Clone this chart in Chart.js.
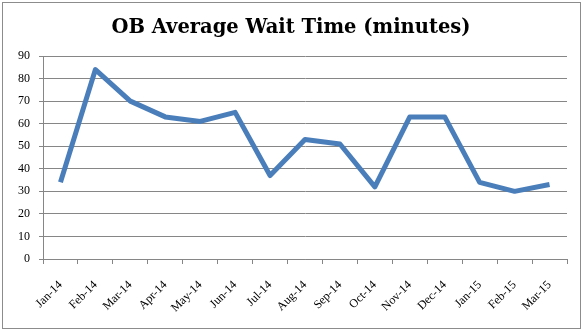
<!DOCTYPE html>
<html>
<head>
<meta charset="utf-8">
<script src="https://cdn.jsdelivr.net/npm/chart.js@4.4.1/dist/chart.umd.min.js"></script>
<style>
  html, body { margin: 0; padding: 0; background: #ffffff; }
  #wrap { position: relative; width: 585px; height: 331px; }
</style>
</head>
<body>
<div id="wrap"><canvas id="chart" width="585" height="331"></canvas></div>
<script>
// Monthly OB average wait time, in minutes
const months = ['Jan-14', 'Feb-14', 'Mar-14', 'Apr-14', 'May-14', 'Jun-14', 'Jul-14',
                'Aug-14', 'Sep-14', 'Oct-14', 'Nov-14', 'Dec-14', 'Jan-15', 'Feb-15', 'Mar-15'];
const waitMinutes = [34, 84, 70, 63, 61, 65, 37, 53, 51, 32, 63, 63, 34, 30, 33];
const yTicks = [0, 10, 20, 30, 40, 50, 60, 70, 80, 90];
const chartTitle = 'OB Average Wait Time (minutes)';

const serif = '"Liberation Serif", "DejaVu Serif", serif';

// Outer frame and the heading above the plot
const framePlugin = {
  id: 'frame',
  afterDraw(chart) {
    const ctx = chart.ctx;
    ctx.save();
    ctx.strokeStyle = '#8c8c8c';
    ctx.lineWidth = 1;
    ctx.strokeRect(2.5, 2.5, 578, 326);
    ctx.fillStyle = '#000000';
    ctx.font = 'bold 19.5px "DejaVu Serif", serif';
    ctx.textAlign = 'center';
    ctx.textBaseline = 'alphabetic';
    ctx.fillText(chartTitle, 291, 33);
    ctx.restore();
  }
};

new Chart(document.getElementById('chart'), {
  type: 'line',
  data: {
    labels: months,
    datasets: [{
      data: waitMinutes,
      borderColor: '#4a7ebb',
      borderWidth: 5,
      borderJoinStyle: 'round',
      borderCapStyle: 'butt',
      pointRadius: 0,
      tension: 0,
      fill: false
    }]
  },
  options: {
    responsive: false,
    animation: false,
    layout: { padding: { left: 0, right: 18, top: 56, bottom: 0 } },
    plugins: {
      legend: { display: false },
      tooltip: { enabled: false },
      title: { display: false }
    },
    scales: {
      x: {
        offset: true,
        grid: {
          offset: true,
          drawOnChartArea: false,
          drawTicks: true,
          tickLength: 5,
          color: '#868686'
        },
        border: { color: '#868686', width: 1 },
        ticks: {
          autoSkip: false,
          minRotation: 45,
          maxRotation: 45,
          color: '#000000',
          font: { family: serif, size: 12 },
          padding: 14
        },
        afterFit(scale) { scale.height = 72; }
      },
      y: {
        min: 0,
        max: 90,
        afterBuildTicks(scale) { scale.ticks = yTicks.map(v => ({ value: v })); },
        grid: {
          color: '#868686',
          lineWidth: 1,
          drawTicks: true,
          tickLength: 4
        },
        border: { color: '#868686', width: 1 },
        ticks: {
          color: '#000000',
          font: { family: serif, size: 12 },
          padding: 9
        },
        afterFit(scale) { scale.width = 43; }
      }
    }
  },
  plugins: [framePlugin]
});
</script>
</body>
</html>
